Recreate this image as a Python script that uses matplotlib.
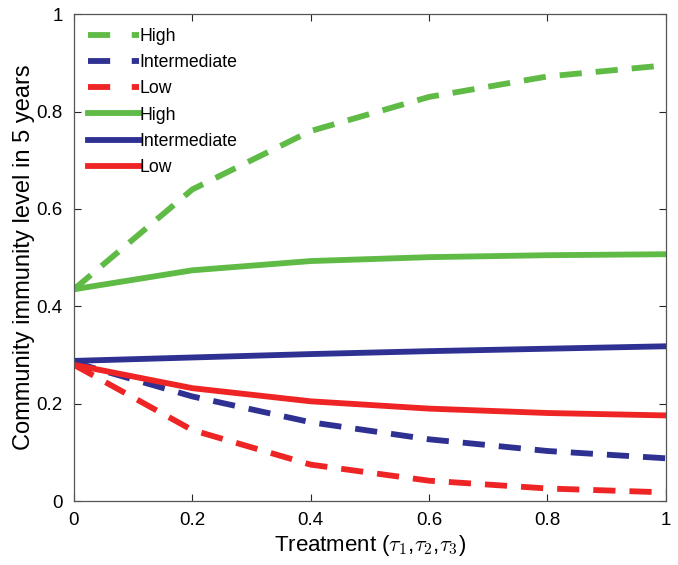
import numpy as np
import matplotlib.pyplot as plt
from matplotlib.lines import Line2D

plt.rcParams['font.family'] = ['Liberation Sans', 'DejaVu Sans']
plt.rcParams['mathtext.fontset'] = 'cm'

# treatment level (tau1 = tau2 = tau3)
treatment = [0, 0.2, 0.4, 0.6, 0.8, 1.0]

# dashed curves
high_dash = [0.435, 0.640, 0.760, 0.830, 0.872, 0.895]
inter_dash = [0.285, 0.215, 0.162, 0.127, 0.103, 0.088]
low_dash = [0.280, 0.146, 0.075, 0.042, 0.026, 0.018]

# solid curves
high_solid = [0.435, 0.474, 0.493, 0.501, 0.505, 0.507]
inter_solid = [0.288, 0.295, 0.302, 0.308, 0.313, 0.318]
low_solid = [0.280, 0.232, 0.205, 0.190, 0.181, 0.176]

labels = ['High', 'Intermediate', 'Low']
green = '#5FBB46'
blue = '#2E3192'
red = '#EE2524'
colors = [green, blue, red]

fig = plt.figure(figsize=(6.78, 5.65), dpi=100)
ax = fig.add_axes([0.109, 0.113, 0.873, 0.862])

lw = 4.2
dash = (3.8, 2.4)
for ys, c in zip([high_dash, inter_dash, low_dash], colors):
    ax.plot(treatment, ys, color=c, lw=lw, dashes=dash)
for ys, c in zip([high_solid, inter_solid, low_solid], colors):
    ax.plot(treatment, ys, color=c, lw=lw)

handles = [Line2D([], [], color=c, lw=lw, dashes=(3.8, 3.7)) for c in colors]
handles += [Line2D([], [], color=c, lw=lw) for c in colors]
ax.legend(handles, labels + labels, loc='upper left', frameon=False,
          fontsize=12.7, handlelength=2.9, handletextpad=0.0,
          labelspacing=0.52, borderaxespad=0.0, bbox_to_anchor=(0.012, 0.986))

ax.set_xlim(0, 1)
ax.set_ylim(0, 1)
ax.set_xticks([0, 0.2, 0.4, 0.6, 0.8, 1])
ax.set_xticklabels(['0', '0.2', '0.4', '0.6', '0.8', '1'])
ax.set_yticks([0, 0.2, 0.4, 0.6, 0.8, 1])
ax.set_yticklabels(['0', '0.2', '0.4', '0.6', '0.8', '1'])
ax.tick_params(direction='in', length=5, width=0.8, labelsize=13.5, pad=8,
               top=True, right=True, colors='#262626', labelcolor='black')
for s in ax.spines.values():
    s.set_color('#555555')
    s.set_linewidth(0.9)

ax.set_xlabel(r'Treatment ($\tau_1$,$\tau_2$,$\tau_3$)', fontsize=16, labelpad=3)
ax.set_ylabel('Community immunity level in 5 years', fontsize=17, labelpad=1)

fig.savefig('out.png', dpi=100)
